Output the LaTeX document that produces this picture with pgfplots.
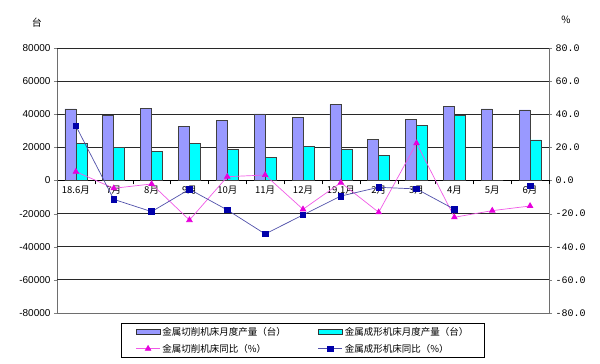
\documentclass[border=0pt]{standalone}
\usepackage{pgfplots}
\pgfplotsset{compat=1.18}
\usepackage{fontspec}
\setmainfont{Liberation Sans}
\newfontfamily\cjk{Noto Sans CJK SC}
\newfontfamily\monof{Liberation Mono}
\definecolor{barA}{RGB}{153,153,255}
\definecolor{barB}{RGB}{0,255,255}
\definecolor{pinkL}{RGB}{240,90,230}
\definecolor{pinkM}{RGB}{230,0,220}
\definecolor{blueL}{RGB}{80,80,170}
\definecolor{blueM}{RGB}{0,0,170}
\definecolor{gridc}{RGB}{40,40,40}
\definecolor{framec}{RGB}{110,110,110}
\pgfplotsset{
  barleg/.style={legend image code/.code={\draw[##1] (0pt,-2.5pt) rectangle (24pt,2.5pt);}},
  lineleg/.style={legend image code/.code={\draw[##1,mark repeat=2,mark phase=2] plot coordinates {(0pt,0pt)(12pt,0pt)(24pt,0pt)};}},
}
\begin{document}
\begin{tikzpicture}
\begin{axis}[name=gr,
  scale only axis, width=492pt, height=265pt,
  xmin=-0.5, xmax=12.5, ymin=-80, ymax=80,
  ytick={-80,-60,...,80}, xtick=\empty,
  axis line style={draw=framec, line width=0.8pt},
  ytick pos=right,
  tick align=outside, major tick length=3pt,
  yticklabel style={font=\monof\fontsize{10}{12}\selectfont},
  /pgf/number format/.cd, fixed, fixed zerofill, precision=1, assume math mode=true,
  /pgfplots/.cd,
]
\addplot[draw=none] coordinates {(0,0)};
\end{axis}
\begin{axis}[name=ax,
  scale only axis, width=492pt, height=265pt,
  xmin=-0.5, xmax=12.5, ymin=-80000, ymax=80000,
  ytick={-80000,-60000,...,80000}, scaled y ticks=false,
  axis y line*=left, axis x line*=middle,
  x axis line style={-, draw=black, line width=1pt},
  y axis line style={-, draw=framec, line width=0.8pt},
  xtick={0,...,12},
  xticklabels={18.6月,7月,8月,9月,10月,11月,12月,19.1月,2月,3月,4月,5月,6月},
  xticklabel style={font=\cjk\fontsize{9.5}{10}\selectfont, inner sep=1pt, yshift=-1pt},
  minor xtick={-0.5,0.5,...,12.5},
  major x tick style={draw=none},
  minor tick length=4pt, tick align=outside, major tick length=3pt,
  minor x tick style={black},
  yticklabel style={font=\fontsize{10}{12}\selectfont},
  /pgf/number format/.cd, 1000 sep={}, assume math mode=true,
  /pgfplots/.cd,
  clip=false,
]
\draw[gridc, line width=0.8pt] (axis cs:-0.5,20000) -- (axis cs:12.5,20000);
\draw[gridc, line width=0.8pt] (axis cs:-0.5,-20000) -- (axis cs:12.5,-20000);
\addplot[sharp plot, draw=gridc, line width=0.8pt, mark=none, forget plot] coordinates {(-0.5,40000)(12.5,40000)};
\addplot[sharp plot, draw=gridc, line width=0.8pt, mark=none, forget plot] coordinates {(-0.5,-40000)(12.5,-40000)};
\addplot[ybar, bar width=11pt, bar shift=-5.5pt, fill=barA, draw=black!75, line width=0.6pt] coordinates {
(0,43200)(1,39500)(2,43600)(3,32500)(4,36300)(5,40200)(6,38200)(7,46000)(8,25000)(9,37000)(10,44600)(11,43200)(12,42600)};
\addplot[ybar, bar width=11pt, bar shift=5.5pt, fill=barB, draw=black!75, line width=0.6pt] coordinates {
(0,22500)(1,20200)(2,17800)(3,22500)(4,19000)(5,14000)(6,20800)(7,19000)(8,15000)(9,33500)(10,39500)(11,0)(12,24500)};
\end{axis}
\begin{axis}[
  scale only axis, width=492pt, height=265pt,
  xmin=-0.5, xmax=12.5, ymin=-80, ymax=80,
  hide axis,
  unbounded coords=jump,
  legend columns=2,
  legend style={at={(0.5,0)}, anchor=north, yshift=-10pt, draw=black, line width=0.6pt,
    font=\cjk\fontsize{9.5}{10}\selectfont, inner xsep=14pt, inner ysep=2pt,
    /tikz/every even column/.append style={column sep=30pt},
    row sep=3pt},
  legend cell align=left,
]
\addplot[gridc, line width=0.8pt, mark=none, forget plot] coordinates {(-0.5,60)(12.5,60)};
\addplot[gridc, line width=0.8pt, mark=none, forget plot] coordinates {(-0.5,-60)(12.5,-60)};
\addplot[gridc, line width=0.8pt, mark=none, forget plot] coordinates {(-0.5,80)(12.5,80)};
\addplot[gridc, line width=0.8pt, mark=none, forget plot] coordinates {(-0.5,-80)(12.5,-80)};
\addlegendimage{fill=barA, draw=black!80, line width=0.8pt, barleg}
\addlegendentry{金属切削机床月度产量（台）}
\addlegendimage{fill=barB, draw=black!80, line width=0.8pt, barleg}
\addlegendentry{金属成形机床月度产量（台）}
\addplot[pinkL, line width=0.7pt, mark=triangle*, mark size=3.2pt, mark options={fill=pinkM, draw=pinkM}, lineleg] coordinates {
(0,5.3)(1,-4.7)(2,-2.1)(3,-23.9)(4,2.3)(5,3.3)(6,-17.4)(7,-1.3)(8,-19.2)(9,22.5)(10,-22.2)(11,-18.2)(12,-15.4)};
\addlegendentry{金属切削机床同比（\%）}
\addplot[blueL, line width=0.7pt, mark=square*, mark size=2.8pt, mark options={fill=blueM, draw=blueM}, lineleg] coordinates {
(0,32.9)(1,-11.4)(2,-18.8)(3,-5.3)(4,-17.8)(5,-32.3)(6,-20.8)(7,-9.4)(8,-4.1)(9,-5.1)(10,-17.4)(11,nan)(12,-3.3)};
\addlegendentry{金属成形机床同比（\%）}
\end{axis}
\node[font=\cjk\fontsize{10}{12}\selectfont] at ([xshift=-20pt, yshift=25pt]ax.north west) {台};
\node[font=\cjk\fontsize{10}{12}\selectfont] at ([xshift=17pt, yshift=28pt]ax.north east) {\%};
\pgfresetboundingbox
\path ([xshift=-57pt,yshift=-51pt]ax.south west) rectangle ([xshift=51pt,yshift=48pt]ax.north east);
\end{tikzpicture}
\end{document}
